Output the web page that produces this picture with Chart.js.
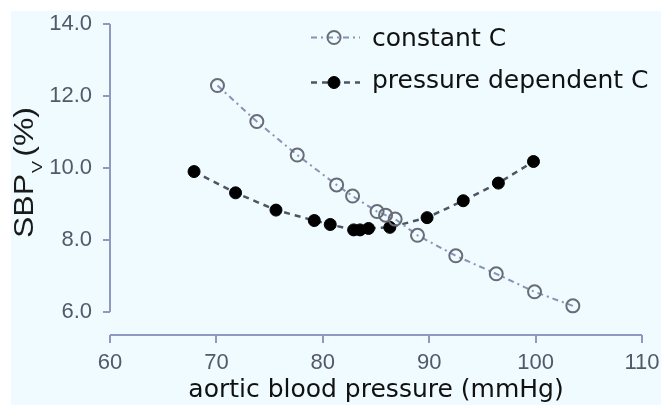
<!DOCTYPE html>
<html>
<head>
<meta charset="utf-8">
<script src="https://cdn.jsdelivr.net/npm/chart.js@4/dist/chart.umd.min.js"></script>
<style>
  html, body { margin: 0; padding: 0; background: #fff; }
  #wrap { width: 661px; height: 405px; }
</style>
</head>
<body>
<div id="wrap"><canvas id="c" width="661" height="405"></canvas></div>
<script>
// values
const constX = [70.1, 73.8, 77.6, 81.3, 82.8, 85.1, 85.9, 86.8, 88.9, 92.5, 96.3, 99.9, 103.5];
const constY = [12.29, 11.29, 10.36, 9.53, 9.22, 8.79, 8.69, 8.58, 8.13, 7.56, 7.06, 6.56, 6.17];
const presX = [67.9, 71.8, 75.6, 79.2, 80.7, 82.9, 83.5, 84.3, 86.3, 89.8, 93.2, 96.5, 99.8];
const presY = [9.90, 9.31, 8.83, 8.54, 8.43, 8.28, 8.28, 8.32, 8.35, 8.62, 9.09, 9.58, 10.18];
const seriesNames = ['constant C', 'pressure dependent C'];
const xTicks = [60, 70, 80, 90, 100, 110];
const yTicks = [6, 8, 10, 12, 14];

const axisColor = '#8e99bf';
const tickColor = '#545969';
const bgColor = '#effbfe';

const toPoints = (xs, ys) => xs.map((x, i) => ({ x: x, y: ys[i] }));

const background = {
    id: 'background',
    beforeDraw(chart) {
        const ctx = chart.ctx;
        ctx.save();
        ctx.fillStyle = '#ffffff';
        ctx.fillRect(0, 0, chart.width, chart.height);
        ctx.fillStyle = bgColor;
        ctx.fillRect(11, 11, chart.width - 11, chart.height - 11);
        ctx.restore();
    }
};

// detached axis lines, R style
const axisLines = {
    id: 'axisLines',
    beforeDatasetsDraw(chart) {
        const { ctx, chartArea, scales } = chart;
        const x = scales.x, y = scales.y;
        ctx.save();
        ctx.strokeStyle = axisColor;
        ctx.lineWidth = 2;
        ctx.beginPath();
        ctx.moveTo(chartArea.left, y.getPixelForValue(yTicks[yTicks.length - 1]));
        ctx.lineTo(chartArea.left, y.getPixelForValue(yTicks[0]));
        ctx.moveTo(x.getPixelForValue(xTicks[0]), chartArea.bottom);
        ctx.lineTo(x.getPixelForValue(xTicks[xTicks.length - 1]), chartArea.bottom);
        ctx.stroke();
        ctx.restore();
    }
};

// y title with subscript V
const yTitle = {
    id: 'yTitle',
    afterDraw(chart) {
        const ctx = chart.ctx;
        ctx.save();
        ctx.translate(33, 238);
        ctx.rotate(-Math.PI / 2);
        ctx.scale(1, 0.85);
        ctx.fillStyle = '#1a1a1a';
        ctx.textBaseline = 'alphabetic';
        ctx.font = '32px "Liberation Sans", Arial, sans-serif';
        ctx.textAlign = 'left';
        ctx.fillText('SBP', 0, 0);
        const w = ctx.measureText('SBP').width;
        ctx.font = '18px "Liberation Sans", Arial, sans-serif';
        ctx.fillText('V', w + 1, 10.5);
        ctx.font = '32px "Liberation Sans", Arial, sans-serif';
        ctx.textAlign = 'right';
        ctx.fillText('(%)', 131, 0);
        ctx.restore();
    }
};

const legendBox = {
    id: 'legendBox',
    afterDraw(chart) {
        const ctx = chart.ctx;
        const rows = [[37.5, 39], [82.5, 81]];
        chart.data.datasets.forEach((ds, i) => {
            const [my, ty] = rows[i];
            ctx.save();
            ctx.strokeStyle = ds.borderColor;
            ctx.lineWidth = ds.borderWidth;
            ctx.setLineDash(ds.borderDash);
            ctx.beginPath();
            ctx.moveTo(311, my);
            ctx.lineTo(360, my);
            ctx.stroke();
            ctx.setLineDash([]);
            ctx.beginPath();
            ctx.arc(334, my, ds.pointRadius, 0, Math.PI * 2);
            ctx.fillStyle = ds.pointBackgroundColor;
            ctx.fill();
            ctx.lineWidth = ds.pointBorderWidth;
            ctx.strokeStyle = ds.pointBorderColor;
            ctx.stroke();
            ctx.fillStyle = '#111';
            ctx.font = '25px "DejaVu Sans", sans-serif';
            ctx.textBaseline = 'middle';
            ctx.textAlign = 'left';
            ctx.fillText(ds.label, 372, ty);
            ctx.restore();
        });
    }
};

new Chart(document.getElementById('c'), {
    type: 'scatter',
    data: {
        datasets: [
            {
                label: seriesNames[0],
                data: toPoints(constX, constY),
                showLine: true,
                borderColor: '#8793b4',
                borderWidth: 2,
                borderDash: [6, 4, 2, 4],
                pointRadius: 6.5,
                pointBorderWidth: 2,
                pointBorderColor: '#696b78',
                pointBackgroundColor: 'rgba(0,0,0,0)'
            },
            {
                label: seriesNames[1],
                data: toPoints(presX, presY),
                showLine: true,
                borderColor: '#4f5462',
                borderWidth: 2.5,
                borderDash: [6, 5],
                pointRadius: 6,
                pointBorderWidth: 1,
                pointBorderColor: '#000',
                pointBackgroundColor: '#000'
            }
        ]
    },
    options: {
        responsive: false,
        animation: false,
        layout: { padding: { top: 24, right: 19, left: 0, bottom: 0 } },
        plugins: {
            legend: { display: false },
            tooltip: { enabled: false }
        },
        scales: {
            x: {
                type: 'linear',
                min: 60,
                max: 110,
                afterFit: s => { s.height = 70; s.paddingLeft = 0; s.paddingRight = 0; },
                afterBuildTicks: s => { s.ticks = xTicks.map(v => ({ value: v })); },
                border: { display: false },
                grid: { drawOnChartArea: false, drawTicks: true, tickLength: 8, color: axisColor, lineWidth: 2 },
                ticks: {
                    padding: 7,
                    color: tickColor,
                    font: { family: '"Liberation Sans", Arial, sans-serif', size: 22 },
                    maxRotation: 0
                },
                title: {
                    display: true,
                    text: 'aortic blood pressure (mmHg)',
                    color: '#111',
                    font: { family: '"DejaVu Sans", sans-serif', size: 25 },
                    padding: { top: 0, bottom: 0 }
                }
            },
            y: {
                min: 5.36,
                max: 14,
                afterFit: s => { s.width = 110; s.paddingTop = 0; s.paddingBottom = 0; },
                afterBuildTicks: s => { s.ticks = yTicks.map(v => ({ value: v })); },
                border: { display: false },
                grid: { drawOnChartArea: false, drawTicks: true, tickLength: 7, color: axisColor, lineWidth: 2 },
                ticks: {
                    padding: 11,
                    color: tickColor,
                    font: { family: '"Liberation Sans", Arial, sans-serif', size: 22 },
                    callback: v => v.toFixed(1)
                }
            }
        }
    },
    plugins: [background, axisLines, yTitle, legendBox]
});
</script>
</body>
</html>
